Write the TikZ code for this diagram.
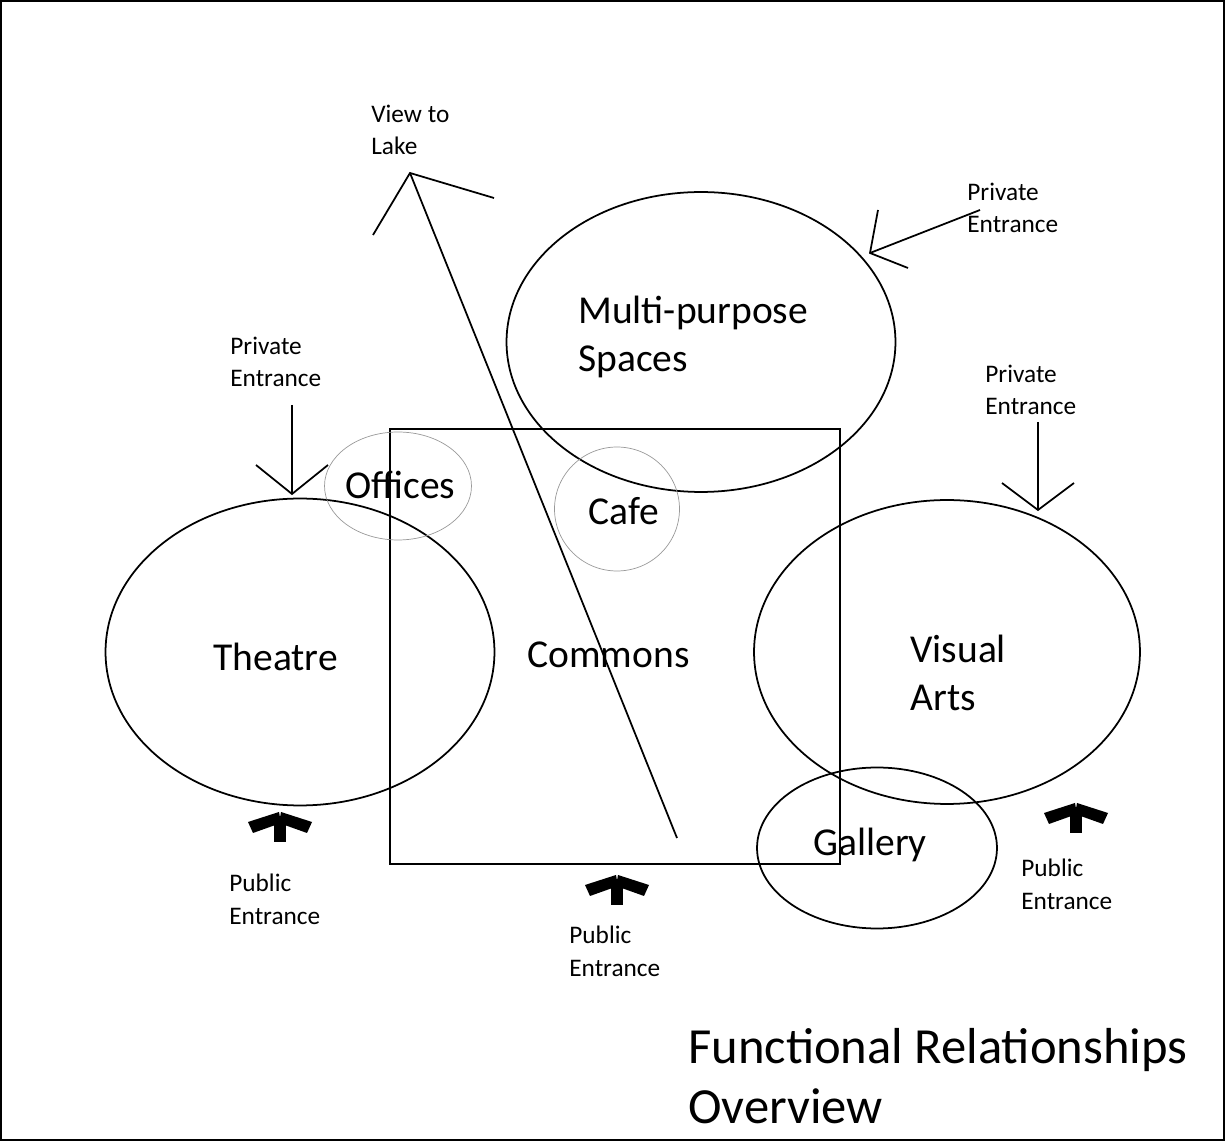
\documentclass[tikz,border=0pt]{standalone}
\usepackage{fontspec}
\setmainfont{Carlito}
\usetikzlibrary{shapes.geometric}

\tikzset{
  room/.style={draw, ellipse, line width=1pt, inner sep=0pt},
  blob/.style={draw=gray!80, ellipse, line width=0.4pt, inner sep=0pt},
  note/.style={align=left, inner sep=0pt, anchor=west, font=\fontsize{14.4}{18.6}\selectfont},
  label/.style={align=left, inner sep=0pt, font=\fontsize{22.5}{27.2}\selectfont},
  title/.style={align=left, inner sep=0pt, anchor=west, font=\fontsize{28.8}{34}\selectfont},
}

\begin{document}
\begin{tikzpicture}[x=0.02cm, y=-0.02cm]
\useasboundingbox (0,0) rectangle (1225,1141);

%draw frame
\draw[line width=0.8pt] (1,1) rectangle (1224,1140);

%draw rooms
\node[room, minimum width=7.78cm, minimum height=6cm] (multi) at (701,342) {};
\node[room, minimum width=7.78cm, minimum height=6.14cm] (theatre) at (300,652) {};
\node[room, minimum width=7.72cm, minimum height=6.08cm] (visual) at (947,652) {};
\node[room, minimum width=4.8cm, minimum height=3.22cm] (gallery) at (877,848) {};
\node[draw, line width=1pt, minimum width=9cm, minimum height=8.7cm, inner sep=0pt] (commons) at (615,646.5) {};
\node[blob, minimum width=2.94cm, minimum height=2.16cm] (offices) at (398,486) {};
\node[blob, minimum width=2.5cm, minimum height=2.48cm] (cafe) at (617,509) {};

%room names
\node[label, anchor=west] (multitext) at (578,337) {Multi-purpose\\Spaces};
\node[label, anchor=west] (theatretext) at (213,657) {Theatre};
\node[label, anchor=west] (commonstext) at (527,655) {Commons};
\node[label, anchor=west] (officestext) at (345,485) {Offices};
\node[label, anchor=west] (cafetext) at (588,511) {Cafe};
\node[label, anchor=west] (visualtext) at (910,673) {Visual\\Arts};
\node[label, anchor=west] (gallerytext) at (813,845) {Gallery};

%view to lake
\node[note] (laketext) at (371,130) {View to\\Lake};
\coordinate (lakefoot) at (677,838);
\coordinate (laketip) at (410,173);
\draw[line width=1pt] (lakefoot) -- (laketip);
\draw[line width=1pt] (373,235) -- (laketip) -- (494,198);

%private entrances
\node[note] (privA) at (967,208) {Private\\Entrance};
\node[note] (privB) at (230,362) {Private\\Entrance};
\node[note] (privC) at (985,390) {Private\\Entrance};
\foreach \tx/\ty/\px/\py/\ax/\ay/\bx/\by in {980/210/870/253/878/210/908/268,
  292/405/292/494/256/465/328/465, 1038/422/1038/510/1002/483/1074/483}
{
\draw[line width=1pt] (\tx,\ty) -- (\px,\py);
\draw[line width=1pt] (\ax,\ay) -- (\px,\py) -- (\bx,\by);
}

%public entrances
\node[note] (pubA) at (229,899) {Public\\Entrance};
\node[note] (pubB) at (569,951) {Public\\Entrance};
\node[note] (pubC) at (1021,884) {Public\\Entrance};
\foreach \x/\y in {280/812, 617/875, 1076/803}
{
\fill[shift={(\x,\y)}] (-32,10) -- (-1,0) -- (1,11) -- (-27,21) -- cycle;
\fill[shift={(\x,\y)}] (32,10) -- (1,0) -- (-1,11) -- (27,21) -- cycle;
\fill[shift={(\x,\y)}] (-6,8) rectangle (6,30);
}

%title
\node[title] (titletext) at (688,1076) {Functional Relationships\\Overview};

\end{tikzpicture}
\end{document}
